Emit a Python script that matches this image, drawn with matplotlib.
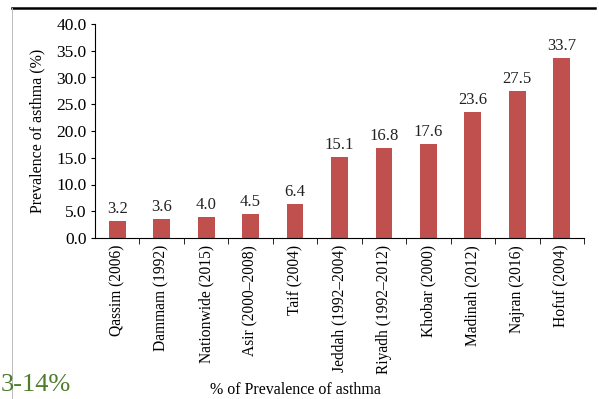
import matplotlib
matplotlib.use("Agg")
import matplotlib.pyplot as plt
from matplotlib.lines import Line2D

regioes = ["Qassim (2006)", "Dammam (1992)", "Nationwide (2015)", "Asir (2000\u20132008)",
           "Taif (2004)", "Jeddah (1992\u20132004)", "Riyadh (1992\u20132012)", "Khobar (2000)",
           "Madinah (2012)", "Najran (2016)", "Hofuf (2004)"]
prevalencia = [3.2, 3.6, 4.0, 4.5, 6.4, 15.1, 16.8, 17.6, 23.6, 27.5, 33.7]
y_ticks = [0, 5, 10, 15, 20, 25, 30, 35, 40]

plt.rcParams['font.family'] = ['Liberation Serif', 'DejaVu Serif']

W, H = 599, 399
fig = plt.figure(figsize=(W / 100, H / 100), dpi=100)
ax = fig.add_axes([95 / W, (H - 238) / H, (584 - 95) / W, (238 - 24) / H])

x = list(range(len(regioes)))
ax.bar(x, prevalencia, width=0.38, color='#C0504D')

for xi, v in zip(x, prevalencia):
    ax.text(xi, v + 0.7, f"{v:.1f}", ha='center', va='bottom', fontsize=12, color='#222222')

ax.set_xlim(-0.5, len(regioes) - 0.5)
ax.set_ylim(0, 40)
ax.set_yticks(y_ticks)
ax.set_yticklabels([f"{t:.1f}" for t in y_ticks], fontsize=12.5)
ax.set_ylabel("Prevalence of asthma (%)", fontsize=11.5, labelpad=8)

# rotulos das regioes, ticks nas divisas
ax.set_xticks(x)
ax.set_xticklabels(regioes, rotation=90, fontsize=11.2)
ax.tick_params(axis='x', length=0, pad=5)
ax.set_xticks([i - 0.5 for i in range(1, len(regioes) + 1)], minor=True)
ax.tick_params(axis='x', which='minor', length=4, direction='out')
ax.tick_params(axis='y', length=3, direction='out', pad=3)

for lado in ['top', 'right']:
    ax.spines[lado].set_visible(False)
for lado in ['left', 'bottom']:
    ax.spines[lado].set_linewidth(0.8)

fig.text(295 / W, 1 / H, "% of Prevalence of asthma", ha='center', va='bottom', fontsize=11.5)

# moldura do slide
fig.add_artist(Line2D([12 / W, 595 / W], [1 - 8 / H, 1 - 8 / H], color='black', linewidth=1.8,
                      transform=fig.transFigure))
fig.add_artist(Line2D([12 / W, 12 / W], [0, 1 - 8 / H], color='#bbbbbb', linewidth=0.7,
                      transform=fig.transFigure))
fig.text(1 / W, (H - 385) / H, "3-14%", ha='left', va='center', fontsize=19, color='#4E7D2E')

plt.savefig('out.png', dpi=100)
plt.close()
